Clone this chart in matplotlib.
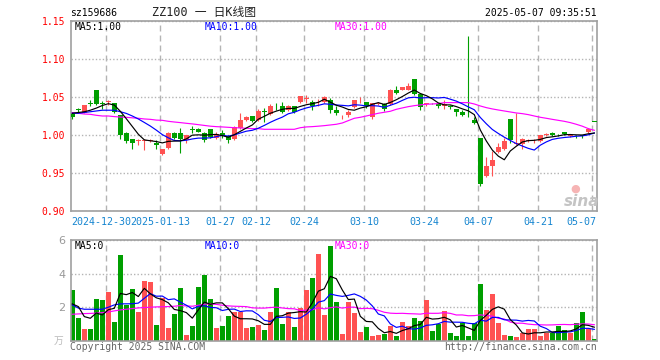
import matplotlib
matplotlib.use('Agg')
import matplotlib.pyplot as plt
import numpy as np

# daily candles, 2024-12-20 .. 2025-05-07
opens = [1.028, 1.034, 1.030, 1.042, 1.060, 1.042, 1.044, 1.043, 1.027, 1.003,
         0.995, 0.993, 0.993, 0.993, 0.990, 0.976, 0.983, 1.003, 1.003, 0.994,
         1.008, 1.008, 1.003, 1.008, 0.996, 1.003, 0.999, 0.995, 1.009, 1.020,
         1.025, 1.020, 1.032, 1.028, 1.039, 1.039, 1.033, 1.038, 1.044, 1.048,
         1.044, 1.046, 1.044, 1.046, 1.033, 1.025, 1.027, 1.037, 1.046, 1.044,
         1.024, 1.041, 1.041, 1.041, 1.060, 1.060, 1.060, 1.074, 1.055, 1.041,
         1.043, 1.041, 1.039, 1.038, 1.034, 1.031, 1.026, 1.020, 0.996, 0.946,
         0.959, 0.978, 0.982, 1.022, 0.989, 0.989, 0.992, 0.9935, 0.992, 1.000,
         1.003, 1.001, 1.004, 0.999, 1.001, 1.000, 1.004, 1.018]
highs = [1.031, 1.036, 1.040, 1.046, 1.060, 1.045, 1.047, 1.043, 1.027, 1.005,
         0.995, 0.995, 0.995, 0.995, 0.994, 0.982, 1.004, 1.004, 1.009, 1.000,
         1.012, 1.009, 1.005, 1.008, 1.005, 1.007, 1.000, 1.012, 1.029, 1.025,
         1.026, 1.034, 1.036, 1.041, 1.043, 1.044, 1.040, 1.038, 1.052, 1.053,
         1.046, 1.048, 1.052, 1.049, 1.038, 1.027, 1.033, 1.047, 1.050, 1.044,
         1.042, 1.044, 1.042, 1.061, 1.065, 1.064, 1.069, 1.074, 1.056, 1.043,
         1.043, 1.042, 1.046, 1.040, 1.035, 1.033, 1.131, 1.024, 0.996, 0.972,
         0.979, 0.990, 0.996, 1.022, 1.030, 0.996, 0.995, 0.995, 1.001, 1.003,
         1.005, 1.002, 1.005, 1.002, 1.001, 1.000, 1.009, 1.018]
lows = [1.022, 1.029, 1.030, 1.038, 1.040, 1.035, 1.040, 1.030, 0.995, 0.990,
        0.982, 0.987, 0.981, 0.991, 0.982, 0.974, 0.982, 0.995, 0.977, 0.990,
        1.003, 1.004, 0.991, 0.996, 0.995, 0.997, 0.990, 0.994, 1.008, 1.019,
        1.017, 1.019, 1.017, 1.027, 1.033, 1.029, 1.032, 1.029, 1.043, 1.042,
        1.033, 1.039, 1.043, 1.030, 1.027, 1.022, 1.024, 1.036, 1.043, 1.036,
        1.021, 1.040, 1.032, 1.040, 1.055, 1.059, 1.059, 1.053, 1.033, 1.038,
        1.041, 1.036, 1.034, 1.034, 1.025, 1.025, 1.024, 1.015, 0.933, 0.945,
        0.946, 0.977, 0.981, 0.990, 0.987, 0.982, 0.991, 0.990, 0.991, 0.999,
        0.999, 0.999, 1.001, 0.998, 0.997, 0.997, 1.003, 1.017]
closes = [1.024, 1.033, 1.040, 1.041, 1.041, 1.041, 1.045, 1.031, 1.000, 0.992,
          0.990, 0.994, 0.994, 0.994, 0.987, 0.982, 1.003, 0.996, 0.995, 1.000,
          1.007, 1.005, 0.994, 0.998, 1.002, 0.999, 0.994, 1.011, 1.020, 1.024,
          1.019, 1.032, 1.031, 1.039, 1.038, 1.031, 1.038, 1.031, 1.052, 1.049,
          1.038, 1.047, 1.051, 1.033, 1.029, 1.026, 1.031, 1.046, 1.047, 1.038,
          1.042, 1.042, 1.034, 1.060, 1.056, 1.063, 1.065, 1.054, 1.037, 1.042,
          1.042, 1.038, 1.041, 1.037, 1.031, 1.027, 1.025, 1.016, 0.936, 0.959,
          0.967, 0.985, 0.992, 0.994, 0.990, 0.995, 0.994, 0.994, 1.000, 1.002,
          1.000, 1.000, 1.002, 1.001, 1.000, 0.999, 1.008, 1.0175]

ma5 = [1.029, 1.030, 1.031, 1.033, 1.0358, 1.0392, 1.0416, 1.0398, 1.0316, 1.0218,
       1.0116, 1.0014, 0.994, 0.9928, 0.9918, 0.990, 0.992, 0.9924, 0.9926, 0.9952,
       1.0002, 1.0006, 1.0002, 1.0008, 1.0012, 0.9996, 0.9974, 1.0008, 1.0052, 1.0096,
       1.0136, 1.0212, 1.025, 1.029, 1.0318, 1.0342, 1.0354, 1.0354, 1.038, 1.0402,
       1.0416, 1.0434, 1.0474, 1.0436, 1.0396, 1.0372, 1.034, 1.033, 1.0358, 1.0376,
       1.0408, 1.043, 1.0406, 1.0432, 1.0468, 1.051, 1.0556, 1.0596, 1.055, 1.0522,
       1.048, 1.0426, 1.040, 1.040, 1.0378, 1.0348, 1.0322, 1.0272, 1.007, 0.9926,
       0.9806, 0.9726, 0.9678, 0.9794, 0.9856, 0.9912, 0.993, 0.9934, 0.9946, 0.997,
       0.998, 0.9992, 1.0008, 1.001, 1.0006, 1.0004, 1.002, 1.003]
ma10 = [1.029, 1.029, 1.030, 1.031, 1.032, 1.033, 1.033, 1.033, 1.031, 1.0288,
        1.0254, 1.0215, 1.0169, 1.0122, 1.0068, 1.0009, 0.9967, 0.9932, 0.9927, 0.9935,
        0.9952, 0.9963, 0.9963, 0.9967, 0.9982, 0.9999, 0.999, 1.0005, 1.003, 1.0054,
        1.0066, 1.0093, 1.013, 1.0171, 1.0207, 1.0239, 1.0283, 1.0303, 1.0335, 1.036,
        1.0379, 1.0394, 1.0414, 1.0408, 1.0399, 1.0394, 1.0387, 1.0402, 1.0397, 1.0386,
        1.039, 1.0385, 1.0368, 1.0395, 1.0422, 1.0459, 1.0493, 1.0501, 1.0491, 1.0495,
        1.0495, 1.0491, 1.0498, 1.0475, 1.045, 1.0414, 1.0374, 1.0336, 1.0235, 1.0152,
        1.0077, 1.0024, 0.9975, 0.9932, 0.9891, 0.9859, 0.9828, 0.9806, 0.987, 0.9913,
        0.9946, 0.9961, 0.9971, 0.9978, 0.9988, 0.9992, 1.0006, 1.003]
ma30 = [1.0298, 1.029, 1.028, 1.0276, 1.0263, 1.0254, 1.0254, 1.0246, 1.024, 1.0237,
        1.023, 1.0224, 1.0215, 1.021, 1.020, 1.0197, 1.0184, 1.0175, 1.0167, 1.0158,
        1.015, 1.014, 1.013, 1.012, 1.0114, 1.011, 1.0105, 1.010, 1.0097, 1.0092,
        1.0088, 1.0088, 1.0079, 1.0079, 1.0079, 1.0079, 1.0079, 1.0079, 1.010, 1.011,
        1.0114, 1.012, 1.0127, 1.0136, 1.0145, 1.0162, 1.0193, 1.0224, 1.0237, 1.0254,
        1.0272, 1.029, 1.0303, 1.0316, 1.0342, 1.036, 1.0377, 1.039, 1.040, 1.0408,
        1.0412, 1.0417, 1.043, 1.043, 1.043, 1.043, 1.043, 1.0412, 1.0386, 1.0364,
        1.0347, 1.0333, 1.032, 1.0307, 1.0294, 1.0285, 1.0272, 1.0254, 1.0237, 1.0224,
        1.021, 1.0197, 1.0184, 1.0167, 1.0145, 1.012, 1.0088, 1.0066]

volumes = [3.04, 1.34, 0.70, 0.70, 2.50, 2.44, 2.92, 1.12, 5.14, 2.14,
           3.08, 1.72, 3.58, 3.50, 0.94, 2.54, 0.76, 1.60, 3.16, 0.34,
           0.88, 3.22, 3.94, 2.50, 0.76, 0.88, 1.48, 1.72, 1.72, 0.76,
           0.82, 0.94, 0.64, 1.72, 3.16, 1.00, 1.72, 0.82, 1.98, 3.04,
           3.76, 5.20, 1.54, 5.68, 2.34, 0.40, 2.34, 1.68, 0.52, 0.82,
           0.28, 0.36, 0.40, 0.88, 0.28, 1.12, 0.88, 1.36, 1.20, 2.44,
           0.58, 1.00, 1.78, 0.44, 0.28, 1.04, 0.28, 1.04, 3.40, 1.84,
           2.80, 1.04, 0.34, 0.28, 0.22, 0.46, 0.70, 0.70, 0.28, 0.46,
           0.46, 0.90, 0.64, 0.46, 1.06, 1.72, 0.70, 0.10]
vol_ma5 = [2.20, 2.04, 1.44, 1.34, 1.656, 1.536, 1.852, 1.936, 2.824, 2.752,
           2.88, 2.64, 3.13, 2.804, 2.564, 2.456, 2.264, 1.868, 1.80, 1.68,
           1.348, 1.84, 2.308, 2.176, 2.26, 2.26, 1.912, 1.468, 1.312, 1.312,
           1.30, 1.192, 0.976, 0.976, 1.456, 1.492, 1.648, 1.684, 1.736, 1.712,
           2.264, 2.96, 3.104, 3.844, 3.704, 3.032, 2.46, 2.488, 1.456, 1.152,
           1.128, 0.732, 0.476, 0.548, 0.44, 0.608, 0.712, 0.904, 0.968, 1.40,
           1.292, 1.316, 1.40, 1.248, 0.816, 0.908, 0.764, 0.616, 1.208, 1.52,
           1.872, 2.024, 1.884, 1.26, 0.936, 0.468, 0.40, 0.472, 0.472, 0.52,
           0.52, 0.56, 0.548, 0.584, 0.704, 0.956, 0.916, 0.808]
vol_ma10 = [2.14, 1.95, 1.88, 1.88, 1.88, 1.88, 2.00, 2.14, 2.20, 2.204,
            2.208, 2.246, 2.534, 2.814, 2.658, 2.668, 2.452, 2.50, 2.302, 2.122,
            1.902, 2.052, 2.088, 1.988, 1.97, 1.804, 1.876, 1.888, 1.744, 1.786,
            1.78, 1.552, 1.222, 1.144, 1.384, 1.396, 1.42, 1.33, 1.356, 1.584,
            1.878, 2.304, 2.394, 2.79, 2.708, 2.648, 2.71, 2.796, 2.65, 2.428,
            2.08, 1.596, 1.482, 1.002, 0.796, 0.868, 0.722, 0.69, 0.758, 0.92,
            0.95, 1.014, 1.152, 1.108, 1.108, 1.10, 1.04, 1.008, 1.228, 1.168,
            1.39, 1.394, 1.25, 1.234, 1.228, 1.17, 1.212, 1.178, 0.866, 0.728,
            0.494, 0.48, 0.51, 0.528, 0.612, 0.738, 0.738, 0.678]
vol_ma30 = [1.58, 1.60, 1.62, 1.63, 1.65, 1.68, 1.72, 1.78, 1.84, 1.88,
            1.92, 1.96, 1.98, 2.00, 2.02, 2.03, 2.04, 2.06, 2.10, 2.08,
            2.06, 2.12, 2.18, 2.20, 2.17, 2.12, 2.08, 2.06, 2.05, 2.037,
            1.963, 1.95, 1.948, 1.982, 2.004, 1.956, 1.916, 1.906, 1.801, 1.831,
            1.853, 1.969, 1.901, 1.974, 2.021, 1.949, 2.002, 2.005, 1.917, 1.933,
            1.913, 1.817, 1.699, 1.645, 1.629, 1.637, 1.617, 1.605, 1.588, 1.644,
            1.636, 1.638, 1.676, 1.633, 1.537, 1.539, 1.491, 1.498, 1.545, 1.505,
            1.473, 1.335, 1.295, 1.115, 1.044, 1.046, 0.991, 0.959, 0.951, 0.939,
            0.945, 0.963, 0.971, 0.957, 0.983, 1.003, 0.997, 0.955]

date_labels = ['2024-12-30', '2025-01-13', '01-27', '02-12', '02-24',
               '03-10', '03-24', '04-07', '04-21', '05-07']
date_idx = [6, 15, 25, 31, 39, 49, 59, 68, 78, 87]
price_ticks = [0.90, 0.95, 1.00, 1.05, 1.10, 1.15]
vol_ticks = [2, 4, 6]

W, H = 660, 360
RED = '#ff5252'
GREEN = '#009f00'
GRID = '#b4b4b4'
FRAME = '#a0a0a0'
BLUE_TXT = '#1585d0'
MONO = 'DejaVu Sans Mono'


def box(l, t, r, b):
    return [l / W, 1 - b / H, (r - l) / W, (b - t) / H]


def px(x, y):
    return x / W, 1 - y / H


fig = plt.figure(figsize=(6.6, 3.6), dpi=100)
ax1 = fig.add_axes(box(70.7, 21.3, 597.3, 211.3))
ax2 = fig.add_axes(box(70.7, 240.3, 597.3, 340.7))

x = np.arange(len(closes))
o = np.array(opens)
c = np.array(closes)
colors = np.where(c >= o, RED, GREEN)

# candles
ax1.vlines(x, lows, highs, colors=colors, lw=0.8, zorder=2)
ax1.bar(x, np.maximum(np.abs(c - o), 0.0008), bottom=np.minimum(o, c),
        width=0.8, color=colors, lw=0, zorder=3)
ax1.plot(x, ma30, color='#ff00ff', lw=0.85, zorder=4)
ax1.plot(x, ma10, color='#0000ff', lw=0.85, zorder=5)
ax1.plot(x, ma5, color='black', lw=0.85, zorder=6)

# volume
ax2.bar(x, volumes, width=0.8, color=colors, lw=0, zorder=2)
ax2.plot(x, vol_ma30, color='#ff00ff', lw=0.85, zorder=4)
ax2.plot(x, vol_ma10, color='#0000ff', lw=0.85, zorder=5)
ax2.plot(x, vol_ma5, color='black', lw=0.85, zorder=6)

grid_x = np.array(date_idx) - 0.33
for ax in (ax1, ax2):
    ax.set_xlim(-0.27, 87.5)
    for s in ax.spines.values():
        s.set_color(FRAME)
        s.set_linewidth(1.2)
    ax.set_xticks(grid_x)
    ax.set_xticklabels([])
    ax.xaxis.grid(True, color=GRID, lw=1, linestyle=(0, (4.3, 2.9)))
    ax.yaxis.grid(True, color=GRID, lw=1, linestyle=(0, (1, 1.5)))
    ax.tick_params(length=0)
    ax.set_axisbelow(True)

ax1.set_ylim(0.90, 1.15)
ax1.set_yticks(price_ticks)
ax1.set_yticklabels(['%.2f' % v for v in price_ticks], color='#ff0000',
                    family=MONO, fontsize=7)
ax1.tick_params(axis='y', pad=4)

ax2.set_ylim(0, 6)
ax2.set_yticks(vol_ticks)
ax2.set_yticklabels([str(v) for v in vol_ticks], color='#999999', fontsize=8)
ax2.tick_params(axis='y', pad=4)

# date labels under the price panel
shifts = [-0.8, 0, 0, 0, 0, 0, 0, 0, 0, 0]
for i, (lab, gx) in enumerate(zip(date_labels, grid_x)):
    if i == len(date_labels) - 1:
        ax1.text(87.3, -0.055, lab, transform=ax1.get_xaxis_transform(),
                 ha='right', va='center', color=BLUE_TXT, family=MONO, fontsize=7.2)
    else:
        ax1.text(gx + shifts[i], -0.055, lab, transform=ax1.get_xaxis_transform(),
                 ha='center', va='center', color=BLUE_TXT, family=MONO, fontsize=7.2)

# header
fig.text(*px(70, 13.3), 'sz159686', family=MONO, fontsize=7, va='center', ha='left')
fig.text(*px(203.5, 12.5), 'ZZ100 一 日K线图', family=[MONO, 'Noto Sans CJK SC'],
         fontsize=8.5, va='center', ha='center', color='#222222')
fig.text(*px(597, 13.3), '2025-05-07 09:35:51', family=MONO, fontsize=7,
         va='center', ha='right')

# MA legends
fig.text(*px(75, 27), 'MA5:1.00', family=MONO, fontsize=7, va='center', color='black')
fig.text(*px(204.3, 27), 'MA10:1.00', family=MONO, fontsize=7, va='center', color='#0000ff')
fig.text(*px(334.7, 27), 'MA30:1.00', family=MONO, fontsize=7, va='center', color='#ff00ff')
fig.text(*px(75, 246), 'MA5:0', family=MONO, fontsize=7, va='center', color='black')
fig.text(*px(205, 246), 'MA10:0', family=MONO, fontsize=7, va='center', color='#0000ff')
fig.text(*px(335, 246), 'MA30:0', family=MONO, fontsize=7, va='center', color='#ff00ff')

# unit and footer
fig.text(*px(63, 341), '万', family=['Noto Sans CJK SC'], fontsize=7,
         va='center', ha='right', color='#bbbbbb')
fig.text(*px(70, 346.5), 'Copyright 2025 SINA.COM', family=MONO, fontsize=7,
         va='center', ha='left', color='#666666')
fig.text(*px(597, 346.5), 'http://finance.sina.com.cn', family=MONO, fontsize=7,
         va='center', ha='right', color='#666666')

# sina watermark
fig.text(*px(575, 189), '●', fontsize=8, va='center', ha='center', color='#f6b4b4')
fig.text(*px(582, 201), 'sina', fontsize=11, fontweight='bold', fontstyle='italic',
         va='center', ha='center', color='#c4c4c4')

fig.savefig('out.png', dpi=100)
